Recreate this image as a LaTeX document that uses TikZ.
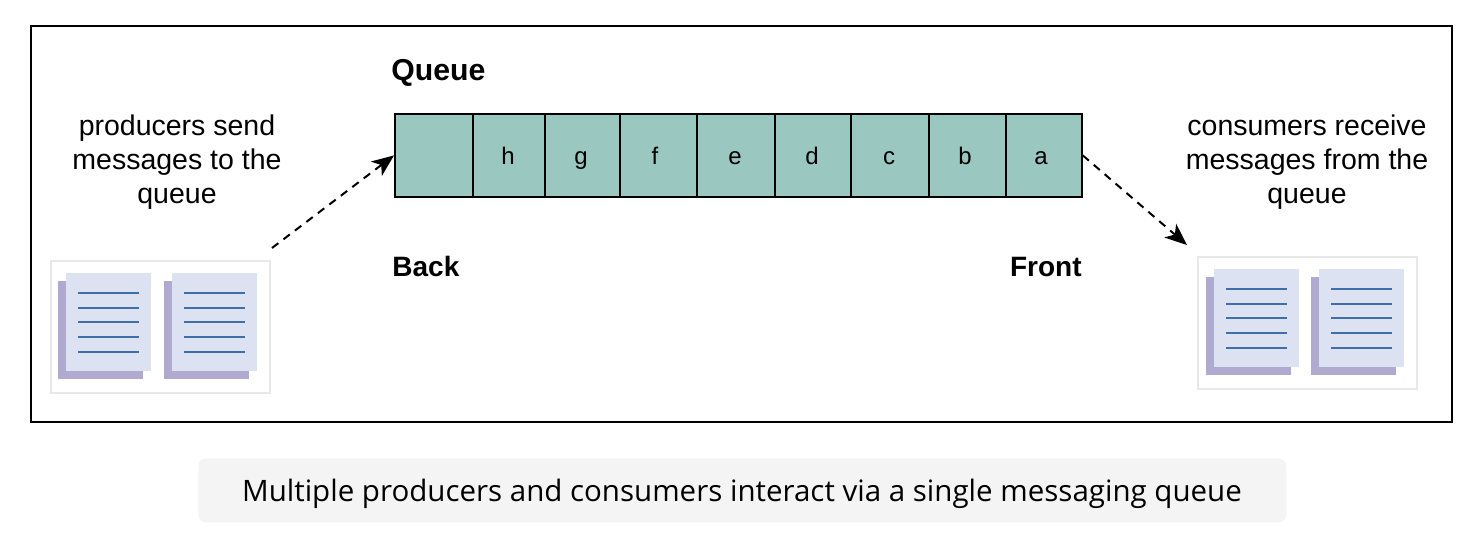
\documentclass[tikz,border=0pt]{standalone}
\usepackage{fontspec}
\setmainfont{Liberation Sans}
\newfontfamily\capfont{Open Sans}
\usetikzlibrary{arrows.meta}
\definecolor{cellfill}{HTML}{9AC7BF}
\definecolor{pagefill}{HTML}{DDE2F2}
\definecolor{shadowfill}{HTML}{B0AAD0}
\definecolor{rulecol}{HTML}{3F6FA8}
\definecolor{framecol}{HTML}{E8E8E8}
\definecolor{capfill}{HTML}{F4F4F4}
\tikzset{
  x=0.5pt,y=-0.5pt,
  outer/.style={draw=black,line width=1pt},
  cell/.style={draw=black,fill=cellfill,line width=0.9pt,anchor=north west,minimum height=41.5pt,inner sep=0pt},
  celltext/.style={inner sep=0pt,text height=8pt,text depth=2.2pt,font=\fontsize{12}{14}\selectfont},
  note/.style={align=center,font=\fontsize{14.25}{17}\selectfont,inner sep=0pt},
  head/.style={font=\bfseries\fontsize{14}{17}\selectfont,inner sep=0pt},
  flow/.style={line width=1pt,dash pattern=on 4pt off 3.2pt,-{Stealth[length=11pt,width=9pt,inset=3pt]},black},
  frame/.style={draw=framecol,line width=1pt,fill=white,anchor=north west,minimum width=109.5pt,minimum height=66pt,inner sep=0pt},
  sheet/.style={fill=pagefill},
  shadowsheet/.style={fill=shadowfill},
  textrule/.style={draw=rulecol,line width=0.9pt},
  caprect/.style={fill=capfill,rounded corners=4pt},
  pagepic/.pic={
    \fill[shadowsheet] (0,8) rectangle (85,106);
    \fill[sheet] (8,0) rectangle (93,98);
    \foreach \yy in {20,35,49,64,79} \draw[textrule] (20,\yy) -- (81,\yy);
  }
}
\begin{document}
\begin{tikzpicture}
\useasboundingbox (0,0) rectangle (1480,536);
\fill[white] (0,0) rectangle (1480,536);
\draw[outer] (31,26) rectangle (1452,422);
% queue cells
\node[cell,minimum width=39pt] (c0) at (394,113) {};
\node[cell,minimum width=36pt] (c1) at (472,113) {};
\node[cell,minimum width=37.5pt] (c2) at (544,113) {};
\node[cell,minimum width=38.5pt] (c3) at (619,113) {};
\node[cell,minimum width=39pt] (c4) at (696,113) {};
\node[cell,minimum width=38pt] (c5) at (774,113) {};
\node[cell,minimum width=39pt] (c6) at (850,113) {};
\node[cell,minimum width=38.5pt] (c7) at (928,113) {};
\node[cell,minimum width=38pt] (c8) at (1005,113) {};
\node[celltext] (th) at (508,159) {h};
\node[celltext] (tg) at (581,159) {g};
\node[celltext] (tf) at (655,159) {f};
\node[celltext] (te) at (735,159) {e};
\node[celltext] (td) at (812,159) {d};
\node[celltext] (tc) at (889,159) {c};
\node[celltext] (tb) at (965,159) {b};
\node[celltext] (ta) at (1041,159) {a};
% labels
\node[head,anchor=base west,font=\bfseries\fontsize{15.1}{17}\selectfont] (qlabel) at (391,80) {Queue};
\node[head,anchor=base west] (back) at (392,276) {Back};
\node[head,anchor=base east] (front) at (1082,276) {Front};
\node[note] (prod) at (177,162) {producers send\\messages to the\\queue};
\node[note] (cons) at (1307,162) {consumers receive\\messages from the\\queue};
% producers
\node[frame] (pbox) at (50,260) {};
\pic at (58,273) {pagepic};
\pic at (164,273) {pagepic};
% consumers
\node[frame] (cbox) at (1197,256) {};
\pic at (1206,269) {pagepic};
\pic at (1311,269) {pagepic};
% connectors
\coordinate (pstart) at (272,248);
\coordinate (cend) at (1187,245);
\draw[flow] (pstart) -- (c0.west);
\draw[flow] (c8.east) -- (cend);
% caption
\node[caprect,anchor=north west,minimum width=544pt,minimum height=32pt,inner sep=0pt] (capbox) at (198,458) {};
\node[inner sep=0pt,font=\capfont\fontsize{14.75}{17}\selectfont] (caption) at (742,494) {Multiple producers and consumers interact via a single messaging queue};
\end{tikzpicture}
\end{document}
